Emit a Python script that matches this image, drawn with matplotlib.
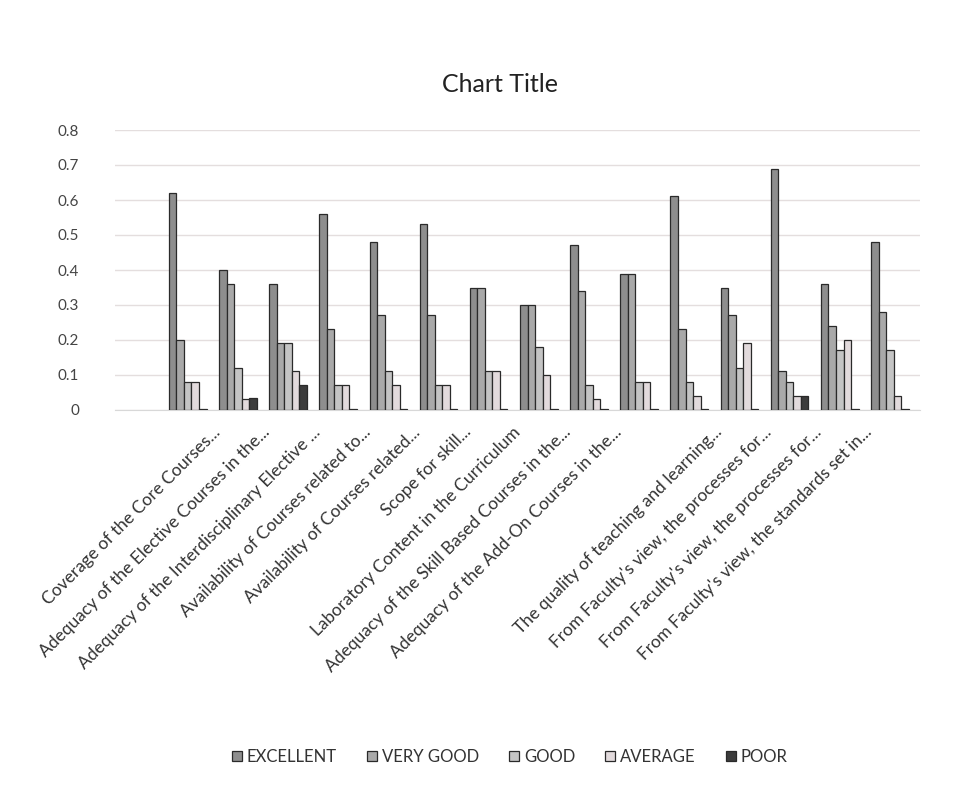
import matplotlib
matplotlib.use("Agg")
import matplotlib.pyplot as plt
import matplotlib.transforms as mtransforms
import numpy as np

plt.rcParams['font.family'] = ['Lato', 'DejaVu Sans']

categories = [
    "Coverage of the Core Courses...",
    "Adequacy of the Elective Courses in the...",
    "Adequacy of the Interdisciplinary Elective ...",
    "Availability of Courses related to...",
    "Availability of Courses related...",
    "Scope for skill...",
    "Laboratory Content in the Curriculum",
    "Adequacy of the Skill Based Courses in the...",
    "Adequacy of the Add-On Courses in the...",
    "",
    "The quality of teaching and learning...",
    "From Faculty's view, the processes for...",
    "From Faculty's view, the processes for...",
    "From Faculty's view, the standards set in...",
    "",
]

series_names = ["EXCELLENT", "VERY GOOD", "GOOD", "AVERAGE", "POOR"]

excellent = [0.62, 0.40, 0.36, 0.56, 0.48, 0.53, 0.35, 0.30, 0.47, 0.39, 0.61, 0.35, 0.69, 0.36, 0.48]
very_good = [0.20, 0.36, 0.19, 0.23, 0.27, 0.27, 0.35, 0.30, 0.34, 0.39, 0.23, 0.27, 0.11, 0.24, 0.28]
good      = [0.08, 0.12, 0.19, 0.07, 0.11, 0.07, 0.11, 0.18, 0.07, 0.08, 0.08, 0.12, 0.08, 0.17, 0.17]
average   = [0.08, 0.03, 0.11, 0.07, 0.07, 0.07, 0.11, 0.10, 0.03, 0.08, 0.04, 0.19, 0.04, 0.20, 0.04]
poor      = [0.003, 0.035, 0.07, 0.003, 0.003, 0.003, 0.003, 0.003, 0.003, 0.003, 0.003, 0.003, 0.04, 0.003, 0.003]

values = [excellent, very_good, good, average, poor]
colors = ["#8e8e8e", "#a9a9a9", "#c4c4c4", "#e2dadc", "#3c3c3c"]

W, H = 962, 792
fig = plt.figure(figsize=(W / 100, H / 100), dpi=100)
fig.patch.set_facecolor("white")

ax_left, ax_right = 115, 920
ax_top, ax_bottom = 130, 410
ax = fig.add_axes([ax_left / W, 1 - ax_bottom / H, (ax_right - ax_left) / W, (ax_bottom - ax_top) / H])

x = np.arange(len(categories))
bw = 0.15
for i, (vals, c, name) in enumerate(zip(values, colors, series_names)):
    ax.bar(x + (i - 2) * bw, vals, width=bw, color=c, edgecolor="#2a2a2a",
           linewidth=0.9, label=name, zorder=3)

ax.set_ylim(0, 0.8)
ax.set_yticks(np.arange(0, 0.81, 0.1))
ax.set_yticklabels(["0", "0.1", "0.2", "0.3", "0.4", "0.5", "0.6", "0.7", "0.8"],
                   fontsize=11, color="#444444")
ax.set_xlim(-1.45, 14.6)
ax.yaxis.grid(True, color="#e4dede", linewidth=1.0, zorder=0)
ax.set_axisbelow(True)
for s in ["left", "right", "top"]:
    ax.spines[s].set_visible(False)
ax.spines["bottom"].set_color("#d8d8d8")
ax.tick_params(axis="y", length=0, pad=26)
ax.tick_params(axis="x", length=0, pad=10)

ax.set_xticks(x)
ax.set_xticklabels(categories, rotation=45, ha="right", rotation_mode="anchor",
                   fontsize=12.5, color="#333333")
offset = mtransforms.ScaledTranslation(24 / 100, 0, fig.dpi_scale_trans)
for lbl in ax.get_xticklabels():
    lbl.set_transform(lbl.get_transform() + offset)

fig.text(0.52, 1 - 85 / H, "Chart Title", ha="center", va="center", fontsize=18, color="#222222")

handles, labels = ax.get_legend_handles_labels()
fig.legend(handles, labels, loc="center", bbox_to_anchor=(0.53, 1 - 757 / H), ncol=5,
           frameon=False, fontsize=12, handlelength=0.6, handleheight=0.6,
           columnspacing=1.8, handletextpad=0.3, labelcolor="#333333")

fig.savefig("out.png", dpi=100, facecolor="white")
